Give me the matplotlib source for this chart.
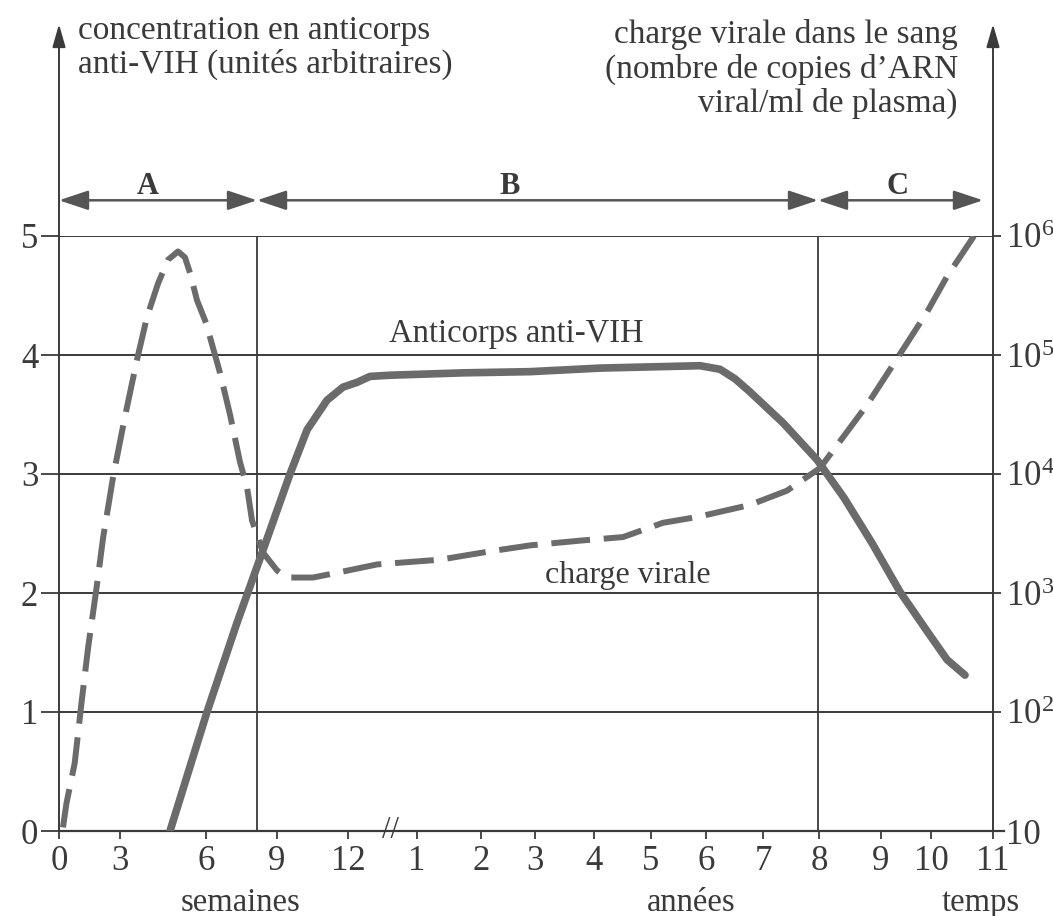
import matplotlib.pyplot as plt
import numpy as np

plt.rcParams['font.family'] = ['Liberation Serif', 'DejaVu Serif']
plt.rcParams['mathtext.fontset'] = 'custom'
plt.rcParams['mathtext.rm'] = 'Liberation Serif'
plt.rcParams['mathtext.it'] = 'Liberation Serif:italic'

# axe du temps (unités de dessin : semaines puis années, échelle coupée)
tick_pos = [0, 6.1, 14.7, 21.8, 28.9, 35.8, 42.2, 47.6, 53.5, 59.2, 64.7, 70.4, 76.0, 82.2, 87.2, 93.4]
tick_labels = ['0', '3', '6', '9', '12', '1', '2', '3', '4', '5', '6', '7', '8', '9', '10', '11']
break_pos = 33.1

# phases A, B, C
phase_bounds = [0, 19.8, 75.9, 92.4]
phase_names = ['A', 'B', 'C']
phase_label_pos = [8.9, 45.1, 83.9]

# concentration en anticorps (unités arbitraires)
ab_x = [11.1, 14.8, 17.8, 20.4, 23.1, 24.8, 26.8, 28.4, 29.8, 31.1, 33.1, 40.4, 47.1,
        54.1, 64.1, 66.1, 67.6, 69.1, 72.4, 75.8, 78.5, 81.3, 84.1, 86.8, 88.8, 90.6]
ab_y = [0.0, 1.0, 1.75, 2.36, 3.0, 3.37, 3.62, 3.73, 3.77, 3.82, 3.83, 3.85, 3.86,
        3.89, 3.91, 3.88, 3.80, 3.69, 3.43, 3.12, 2.80, 2.42, 2.01, 1.68, 1.44, 1.31]

# charge virale (log10(copies/ml) - 1)
vir_x = [0.4, 0.74, 1.57, 2.24, 2.91, 3.75, 4.42, 5.42, 6.59, 7.8, 8.8, 9.9, 10.9, 11.9,
         12.6, 13.1, 13.8, 14.7, 16.1, 17.1, 18.1, 18.8, 19.3, 20.4, 21.8, 22.8, 25.4,
         27.8, 31.8, 38.1, 43.1, 47.1, 52.1, 56.4, 60.4, 63.9, 69.1, 72.8, 76.1, 78.5,
         80.8, 83.5, 86.8, 88.8, 91.5]
vir_y = [0.03, 0.23, 0.57, 1.07, 1.54, 2.04, 2.47, 2.98, 3.48, 3.96, 4.32, 4.6, 4.80, 4.87,
         4.82, 4.69, 4.46, 4.27, 3.85, 3.5, 3.1, 2.89, 2.61, 2.34, 2.19, 2.13, 2.13,
         2.17, 2.24, 2.28, 2.35, 2.40, 2.44, 2.47, 2.59, 2.64, 2.74, 2.86, 3.05, 3.32,
         3.58, 3.93, 4.36, 4.66, 5.0]

left_ticks = ['0', '1', '2', '3', '4', '5']
right_ticks = ['10', r'$10^{2}$', r'$10^{3}$', r'$10^{4}$', r'$10^{5}$', r'$10^{6}$']

ink = '#3a3a3a'
curve = '#6b6b6b'

fig = plt.figure(figsize=(10.53, 9.16), dpi=100)
ax = fig.add_axes([59 / 1053, 1 - 831 / 916, 934 / 1053, 595 / 916])
ax.set_xlim(0, 93.4)
ax.set_ylim(0, 5)
for s in ax.spines.values():
    s.set_visible(False)

# grille
for y in range(1, 6):
    ax.axhline(y, color=ink, lw=1.4, zorder=1)
for xb in phase_bounds[1:3]:
    ax.axvline(xb, ymax=1, color=ink, lw=1.3, zorder=1)
ax.axhline(0, xmin=0, xmax=1.012, color=ink, lw=1.6, clip_on=False, zorder=1)

# axes verticaux avec flèches
for xa in [0, 93.4]:
    ax.annotate('', xy=(xa, 6.78), xytext=(xa, 0), annotation_clip=False,
                arrowprops=dict(arrowstyle='-|>,head_length=0.7,head_width=0.2',
                                mutation_scale=20, color=ink, lw=1.4,
                                shrinkA=0, shrinkB=0))

# ticks
ax.set_xticks(tick_pos)
ax.set_xticklabels(tick_labels)
ax.set_yticks(range(6))
ax.set_yticklabels(left_ticks)
ax.tick_params(axis='x', direction='out', length=6, width=1.3, color=ink,
               labelsize=25, labelcolor=ink, pad=4)
ax.tick_params(axis='y', direction='out', length=13, width=1.3, color=ink,
               labelsize=25, labelcolor=ink, pad=2)

ax2 = ax.twinx()
ax2.set_ylim(0, 5)
for s in ax2.spines.values():
    s.set_visible(False)
ax2.set_yticks(range(6))
ax2.set_yticklabels(right_ticks)
ax2.tick_params(axis='y', direction='out', length=6, width=1.3, color=ink,
                labelsize=25, labelcolor=ink, pad=3)

# courbes
ax.plot(ab_x, ab_y, color=curve, lw=5.5, solid_capstyle='round',
        solid_joinstyle='round', zorder=3)
ax.plot(vir_x, vir_y, color=curve, lw=4.3, dashes=(6.5, 2.3),
        dash_joinstyle='round', zorder=3)

# coupure de l'axe
ax.text(break_pos, 0, '//', ha='center', va='center', fontsize=22, color=ink,
        clip_on=False)

# phases
for i, name in enumerate(phase_names):
    ax.annotate('', xy=(phase_bounds[i + 1], 5.3), xytext=(phase_bounds[i], 5.3),
                annotation_clip=False,
                arrowprops=dict(arrowstyle='<|-|>,head_length=1.2,head_width=0.4',
                                mutation_scale=15, color='#555555', lw=1.8,
                                shrinkA=0, shrinkB=0))
    ax.text(phase_label_pos[i], 5.42, name, ha='center', va='center', fontsize=22,
            fontweight='bold', color=ink, clip_on=False)

# textes
ax.text(1.9, 6.85, 'concentration en anticorps\nanti-VIH (unités arbitraires)',
        ha='left', va='top', fontsize=24, color=ink, linespacing=1.1, clip_on=False)
ax.text(89.9, 6.82, 'charge virale dans le sang\n(nombre de copies d\u2019ARN\nviral/ml de plasma)',
        ha='right', va='top', multialignment='right', fontsize=24, color=ink,
        linespacing=1.12, clip_on=False)
ax.text(45.7, 4.11, 'Anticorps anti-VIH', ha='center', va='baseline', fontsize=23.5,
        color=ink)
ax.text(56.9, 2.08, 'charge virale', ha='center', va='baseline', fontsize=23,
        color=ink)
ax.text(18.2, -0.6, 'semaines', ha='center', va='center', fontsize=23.5, color=ink,
        clip_on=False)
ax.text(63.2, -0.6, 'années', ha='center', va='center', fontsize=23.5, color=ink,
        clip_on=False)
ax.text(92.2, -0.6, 'temps', ha='center', va='center', fontsize=23.5, color=ink,
        clip_on=False)

fig.savefig('out.png', dpi=100)
